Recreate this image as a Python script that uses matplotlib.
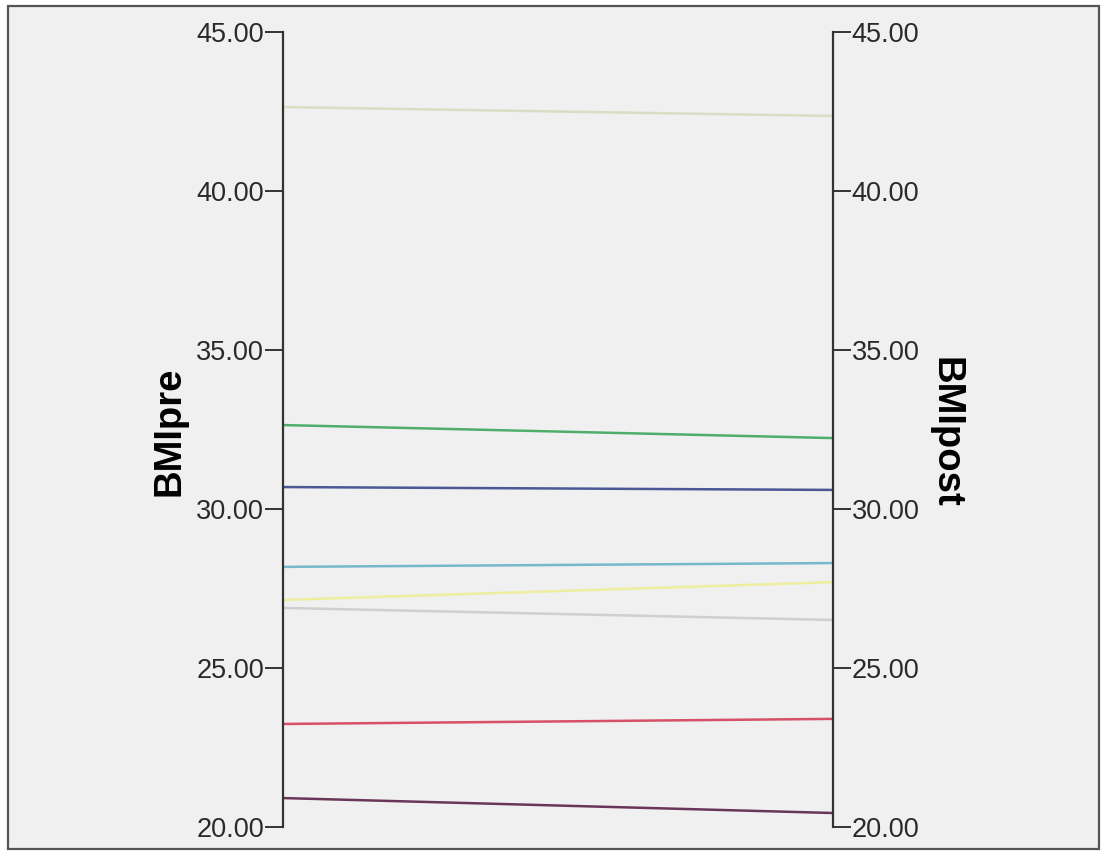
import matplotlib
matplotlib.use("Agg")
import matplotlib.pyplot as plt
from matplotlib.patches import Rectangle

# --- BMI before / after for each case ---
bmi_pre = [42.64, 32.64, 30.69, 28.18, 27.14, 26.89, 23.24, 20.91]
bmi_post = [42.36, 32.23, 30.60, 28.30, 27.70, 26.51, 23.40, 20.44]
case_colors = ["#dcdcc4", "#4fae6a", "#4a5896", "#78b8cc",
               "#eeeea0", "#cfcfcf", "#d65068", "#6a3658"]
yticks = [20, 25, 30, 35, 40, 45]
axis_names = ["BMIpre", "BMIpost"]

W, H = 1102, 852
fig = plt.figure(figsize=(W / 100, H / 100), dpi=100)
fig.patch.set_facecolor("white")

# outer frame with grey fill (behind the axes)
frame = Rectangle((8 / W, 3 / H), 1091 / W, 843 / H, transform=fig.transFigure,
                  facecolor="#f0f0f0", edgecolor="#555555", lw=1.6, zorder=-10)
fig.patches.append(frame)

ax = fig.add_axes([283 / W, 25 / H, 550 / W, 795 / H])
ax.set_facecolor("none")
for x0, x1, col in zip(bmi_pre, bmi_post, case_colors):
    ax.plot([0, 1], [x0, x1], color=col, lw=1.8, solid_capstyle="butt")

ax.set_xlim(0, 1)
ax.set_ylim(20, 45)
ax.set_xticks([])
for s in ["top", "bottom"]:
    ax.spines[s].set_visible(False)
for s in ["left", "right"]:
    ax.spines[s].set_color("#333333")
    ax.spines[s].set_linewidth(1.6)

tick_kw = dict(direction="out", length=13, width=1.4, color="#333333",
               labelsize=19.5, pad=0.5, labelcolor="#2a2a2a")
ax.set_yticks(yticks)
ax.set_yticklabels(["%.2f" % v for v in yticks], family="Liberation Sans")
ax.tick_params(axis="y", left=True, right=False, **tick_kw)

ax2 = ax.twinx()
ax2.set_ylim(20, 45)
ax2.set_yticks(yticks)
ax2.set_yticklabels(["%.2f" % v for v in yticks], family="Liberation Sans")
ax2.tick_params(axis="y", right=True, **tick_kw)
for s in ["top", "bottom", "left", "right"]:
    ax2.spines[s].set_visible(False)

fig.text(169 / W, 1 - 431 / H, axis_names[0], rotation=90, ha="center", va="center",
         fontsize=27.5, fontweight="bold", family="Liberation Sans")
fig.text(945 / W, 1 - 432 / H, axis_names[1], rotation=-90, ha="center", va="center",
         fontsize=27.5, fontweight="bold", family="Liberation Sans")

fig.savefig("out.png", dpi=100)
